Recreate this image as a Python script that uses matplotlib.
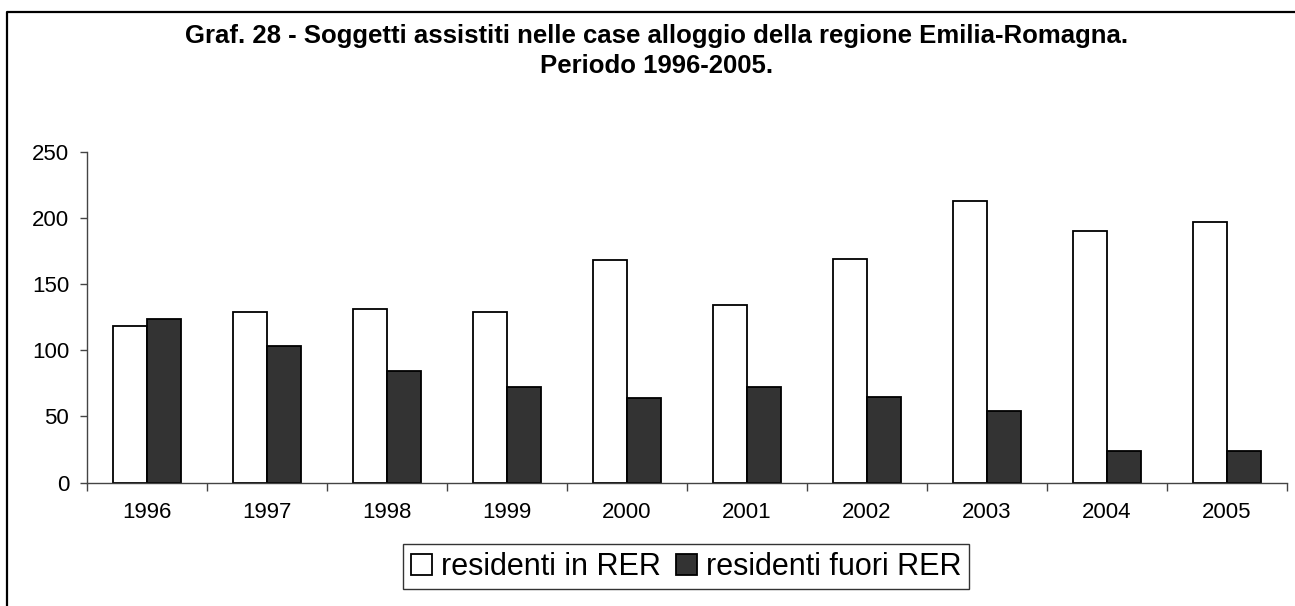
import numpy as np
import matplotlib.pyplot as plt
from matplotlib.lines import Line2D

plt.rcParams['font.family'] = ['Liberation Sans', 'DejaVu Sans']

years = ['1996', '1997', '1998', '1999', '2000', '2001', '2002', '2003', '2004', '2005']
residenti_in = [118, 129, 131, 129, 168, 134, 169, 213, 190, 197]
residenti_fuori = [124, 103, 84, 72, 64, 72, 65, 54, 24, 24]

W, H = 1295, 606
fig = plt.figure(figsize=(W / 100, H / 100), dpi=100)
ax = fig.add_axes([87.3 / W, 1 - 482.7 / H, (1286.7 - 87.3) / W, (482.7 - 151.7) / H])

x = np.arange(len(years))
bw = 0.285
ax.bar(x - bw / 2, residenti_in, bw, color='white', edgecolor='black', linewidth=1.3,
       label='residenti in RER')
ax.bar(x + bw / 2, residenti_fuori, bw, color='#333333', edgecolor='black', linewidth=1.3,
       label='residenti fuori RER')

ax.set_xlim(-0.5, len(years) - 0.5)
ax.set_ylim(0, 250)
ax.set_yticks([0, 50, 100, 150, 200, 250])

# ticks between the groups, labels in the middle
ax.set_xticks(np.arange(len(years) + 1) - 0.5)
ax.set_xticklabels([])
ax.set_xticks(x, minor=True)
ax.set_xticklabels(years, minor=True)
ax.tick_params(axis='x', which='major', direction='out', length=6, width=1, color='#444444')
ax.tick_params(axis='x', which='minor', length=0, pad=14, labelsize=16)
ax.tick_params(axis='y', direction='out', length=5, width=1, pad=8, labelsize=16, color='#444444')

for s in ['top', 'right']:
    ax.spines[s].set_visible(False)
for s in ['left', 'bottom']:
    ax.spines[s].set_color('#444444')
    ax.spines[s].set_linewidth(1)

fig.text(657 / W, 1 - 43 / H, 'Graf. 28 - Soggetti assistiti nelle case alloggio della regione Emilia-Romagna.',
         ha='center', va='baseline', fontsize=18.5, fontweight='bold')
fig.text(657 / W, 1 - 73 / H, 'Periodo 1996-2005.', ha='center', va='baseline', fontsize=18.5,
         fontweight='bold')

leg = fig.legend(loc='center', bbox_to_anchor=(686 / W, 1 - 566.8 / H), ncol=2, fontsize=22,
                 frameon=True, fancybox=False, edgecolor='black', handlelength=0.69,
                 handleheight=0.69, handletextpad=0.29, columnspacing=0.5, borderpad=0.25,
                 borderaxespad=0)
leg.get_frame().set_linewidth(1)

# outer chart-area border (cut on the right and bottom)
fig.add_artist(Line2D([7 / W, 7 / W, 1], [0, 1 - 12 / H, 1 - 12 / H],
                      transform=fig.transFigure, color='black', linewidth=1.6))

fig.savefig('out.png', dpi=100)
